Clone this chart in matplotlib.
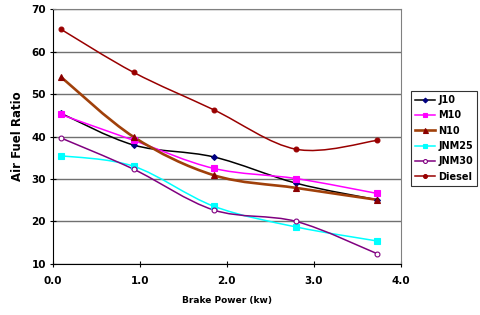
import numpy as np
import matplotlib
matplotlib.use("Agg")
import matplotlib.pyplot as plt
from matplotlib.path import Path
from matplotlib.patches import PathPatch

power = [0.09, 0.93, 1.85, 2.80, 3.73]
series_names = ["J10", "M10", "N10", "JNM25", "JNM30", "Diesel"]
j10 = [45.5, 38.0, 35.2, 29.0, 25.1]
m10 = [45.2, 39.1, 32.5, 30.1, 26.6]
n10 = [54.1, 39.9, 30.9, 27.9, 25.1]
jnm25 = [35.5, 33.0, 23.6, 18.7, 15.4]
jnm30 = [39.7, 32.3, 22.7, 20.0, 12.4]
diesel = [65.3, 55.1, 46.3, 37.0, 39.1]
x_ticks = [0.0, 1.0, 2.0, 3.0, 4.0]
y_ticks = [10, 20, 30, 40, 50, 60, 70]

styles = {
    "J10": dict(color="black", mcolor="#000080", marker="D", ms=3, lw=1.1, mfc="#000080"),
    "M10": dict(color="#FF00FF", mcolor="#FF00FF", marker="s", ms=4, lw=1.1, mfc="#FF00FF"),
    "N10": dict(color="#A0400A", mcolor="#8B0000", marker="^", ms=4.5, lw=1.9, mfc="#8B0000"),
    "JNM25": dict(color="#00FFFF", mcolor="#00FFFF", marker="s", ms=4, lw=1.1, mfc="#00FFFF"),
    "JNM30": dict(color="#800080", mcolor="#800080", marker="o", ms=3.5, lw=1.1, mfc="white"),
    "Diesel": dict(color="#990000", mcolor="#990000", marker="o", ms=3.5, lw=1.1, mfc="#990000"),
}
data = dict(zip(series_names, [j10, m10, n10, jnm25, jnm30, diesel]))


def smooth_path(x, y):
    p = np.column_stack([x, y])
    n = len(p)
    verts = [p[0]]
    codes = [Path.MOVETO]
    for i in range(n - 1):
        p0 = p[i - 1] if i > 0 else p[i]
        p3 = p[i + 2] if i + 2 < n else p[i + 1]
        c1 = p[i] + (p[i + 1] - p0) / 6.0
        c2 = p[i + 1] - (p3 - p[i]) / 6.0
        verts += [c1, c2, p[i + 1]]
        codes += [Path.CURVE4] * 3
    return Path(verts, codes)


fig = plt.figure(figsize=(4.8, 3.15), dpi=100)
ax = fig.add_axes([0.110, 0.162, 0.725, 0.809])

for name in series_names:
    st = styles[name]
    ax.add_patch(PathPatch(smooth_path(power, data[name]), fill=False,
                           edgecolor=st["color"], lw=st["lw"], zorder=3))
    ax.plot(power, data[name], linestyle="none", marker=st["marker"], ms=st["ms"],
            mec=st["mcolor"], mfc=st["mfc"], mew=0.8, zorder=4)

ax.set_xlim(0, 4)
ax.set_ylim(10, 70)
ax.set_xticks(x_ticks)
ax.set_xticklabels([f"{v:.1f}" for v in x_ticks])
ax.set_yticks(y_ticks)
ax.yaxis.grid(True, color="#707070", lw=1.0)
ax.set_axisbelow(True)
for s in ["top", "right"]:
    ax.spines[s].set_color("#808080")
for s in ["left", "bottom"]:
    ax.spines[s].set_color("black")
ax.tick_params(direction="inout", length=4, width=0.8, labelsize=7.5, pad=3)
for lab in ax.get_xticklabels() + ax.get_yticklabels():
    lab.set_fontweight("bold")
ax.tick_params(axis="x", pad=7)
ax.set_xlabel("Brake Power (kw)", fontsize=6.5, fontweight="bold", labelpad=7)
ax.set_ylabel("Air Fuel Ratio", fontsize=8.5, fontweight="bold", labelpad=5)

handles = []
for name in series_names:
    st = styles[name]
    h, = ax.plot([], [], color=st["color"], lw=st["lw"], marker=st["marker"], ms=st["ms"] * 0.8,
                 mec=st["mcolor"], mfc=st["mfc"], mew=0.8)
    handles.append(h)
leg = fig.legend(handles, series_names, loc="upper left", bbox_to_anchor=(0.856, 0.711),
                 frameon=True, fancybox=False, edgecolor="black",
                 prop=dict(weight="bold", size=7), handlelength=2.1, handletextpad=0.3,
                 labelspacing=0.55, borderpad=0.4, borderaxespad=0)
leg.get_frame().set_linewidth(0.8)

fig.savefig("out.png", dpi=100)
